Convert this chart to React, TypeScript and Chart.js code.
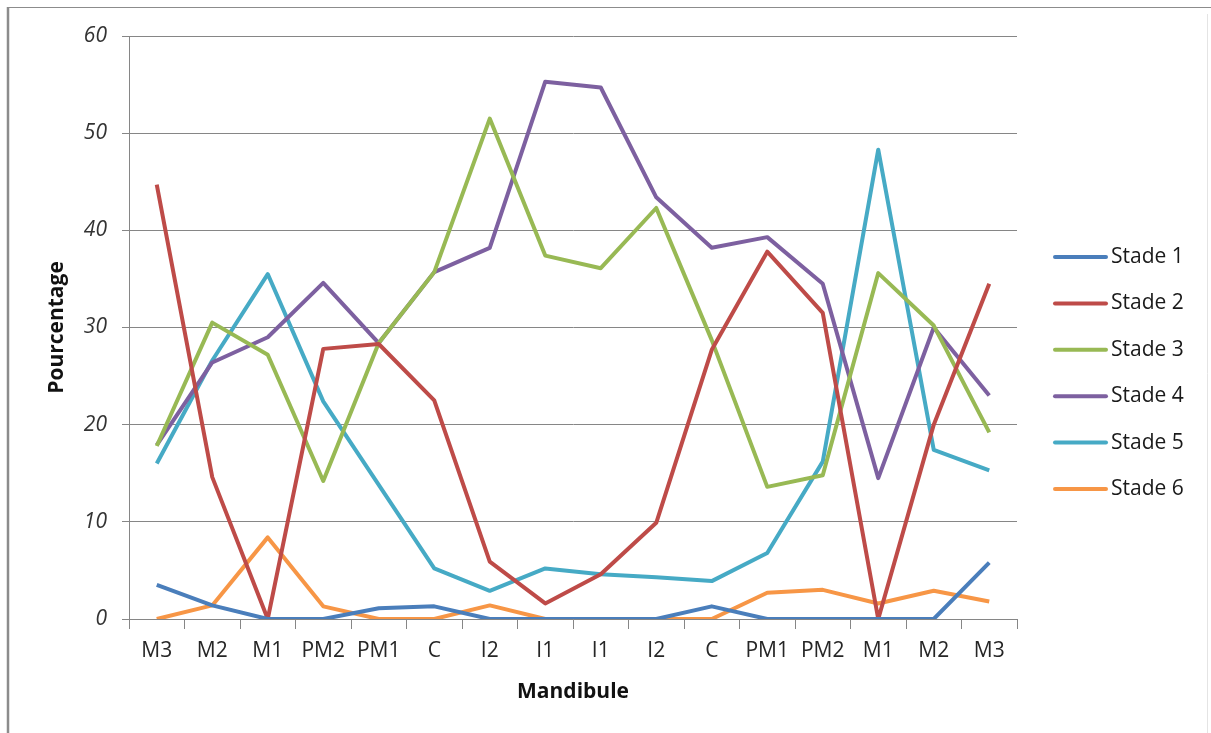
import React, { useEffect, useRef } from "react";
import { Chart, registerables } from "chart.js";

Chart.register(...registerables);

const categories = ["M3", "M2", "M1", "PM2", "PM1", "C", "I2", "I1", "I1", "I2", "C", "PM1", "PM2", "M1", "M2", "M3"];
const stade1 = [3.5, 1.4, 0, 0, 1.1, 1.3, 0, 0, 0, 0, 1.3, 0, 0, 0, 0, 5.8];
const stade2 = [44.7, 14.6, 0, 27.8, 28.3, 22.5, 5.9, 1.6, 4.6, 9.9, 27.7, 37.8, 31.5, 0, 20.0, 34.5];
const stade3 = [17.8, 30.5, 27.2, 14.2, 28.4, 35.7, 51.5, 37.4, 36.1, 42.3, 28.7, 13.6, 14.8, 35.6, 30.2, 19.2];
const stade4 = [17.9, 26.4, 29.0, 34.6, 28.4, 35.7, 38.2, 55.3, 54.7, 43.4, 38.2, 39.3, 34.5, 14.5, 30.0, 23.0];
const stade5 = [16.0, 26.6, 35.5, 22.4, 13.8, 5.2, 2.9, 5.2, 4.6, 4.3, 3.9, 6.8, 16.2, 48.3, 17.4, 15.3];
const stade6 = [0, 1.4, 8.4, 1.3, 0, 0, 1.4, 0, 0, 0, 0, 2.7, 3.0, 1.6, 2.9, 1.8];
const seriesNames = ["Stade 1", "Stade 2", "Stade 3", "Stade 4", "Stade 5", "Stade 6"];
const seriesColors = ["#4A7EBB", "#BE4B48", "#98B954", "#7D60A0", "#46AAC5", "#F79646"];
const yTicksMin = 0;
const yTicksMax = 60;
const yStep = 10;

const FONT = "'Open Sans', 'DejaVu Sans', sans-serif";

const framePlugin = {
  id: "frame",
  beforeDraw(chart: any) {
    const ctx = chart.ctx;
    ctx.save();
    ctx.fillStyle = "#ffffff";
    ctx.fillRect(0, 0, chart.width, chart.height);
    ctx.strokeStyle = "#8c8c8c";
    ctx.lineWidth = 1;
    ctx.beginPath();
    ctx.moveTo(7, 7.5);
    ctx.lineTo(chart.width, 7.5);
    ctx.stroke();
    ctx.lineWidth = 2.5;
    ctx.beginPath();
    ctx.moveTo(8, 7);
    ctx.lineTo(8, chart.height);
    ctx.stroke();
    ctx.strokeStyle = "#e4e4e4";
    ctx.lineWidth = 1;
    ctx.beginPath();
    ctx.moveTo(1207.5, 14);
    ctx.lineTo(1207.5, chart.height);
    ctx.stroke();
    ctx.restore();
  },
};

const legendPlugin = {
  id: "customLegend",
  afterDraw(chart: any) {
    const ctx = chart.ctx;
    ctx.save();
    const x0 = 1055;
    const x1 = 1106;
    const tx = 1111;
    const y0 = 257;
    const dy = 46.4;
    chart.data.datasets.forEach((ds: any, i: number) => {
      const y = y0 + i * dy;
      ctx.strokeStyle = ds.borderColor;
      ctx.lineWidth = 4;
      ctx.lineCap = "round";
      ctx.beginPath();
      ctx.moveTo(x0, y);
      ctx.lineTo(x1, y);
      ctx.stroke();
      ctx.fillStyle = "#1a1a1a";
      ctx.font = `21px ${FONT}`;
      ctx.textBaseline = "middle";
      ctx.textAlign = "left";
      ctx.fillText(ds.label, tx, y);
    });
    ctx.restore();
  },
};

export default function App() {
  const ref = useRef<HTMLCanvasElement | null>(null);

  useEffect(() => {
    if (!ref.current) return;
    const allSeries = [stade1, stade2, stade3, stade4, stade5, stade6];
    const chart = new Chart(ref.current, {
      type: "line",
      data: {
        labels: categories,
        datasets: allSeries.map((d, i) => ({
          label: seriesNames[i],
          data: d,
          borderColor: seriesColors[i],
          backgroundColor: seriesColors[i],
          borderWidth: 4,
          borderJoinStyle: "round",
          pointRadius: 0,
          tension: 0,
          fill: false,
        })),
      },
      options: {
        responsive: false,
        animation: false,
        devicePixelRatio: 1,
        layout: { padding: { left: 0, top: 36, right: 194, bottom: 0 } },
        plugins: { legend: { display: false }, tooltip: { enabled: false } },
        scales: {
          x: {
            type: "category",
            offset: true,
            grid: {
              offset: true,
              drawOnChartArea: false,
              drawTicks: true,
              tickLength: 10,
              color: "#868686",
            },
            border: { display: true, color: "#868686", width: 1 },
            ticks: {
              color: "#262626",
              font: { family: FONT, size: 21 },
              padding: 9,
              maxRotation: 0,
              autoSkip: false,
            },
            title: {
              display: true,
              text: "Mandibule",
              color: "#111111",
              font: { family: FONT, size: 21, weight: "bold" },
              padding: { top: 0, bottom: 28 },
            },
            afterFit(scale: any) {
              scale.height = 114;
            },
          },
          y: {
            min: yTicksMin,
            max: yTicksMax,
            ticks: {
              stepSize: yStep,
              color: "#333333",
              font: { family: FONT, size: 21, style: "italic" },
              padding: 15,
            },
            grid: { color: "#868686", lineWidth: 1, tickLength: 7, drawTicks: true },
            border: { display: true, color: "#868686", width: 1 },
            title: {
              display: true,
              text: "Pourcentage",
              color: "#111111",
              font: { family: FONT, size: 21, weight: "bold" },
              padding: { top: 44, bottom: 0 },
            },
            afterFit(scale: any) {
              scale.width = 129;
            },
          },
        },
      },
      plugins: [framePlugin, legendPlugin],
    } as any);
    return () => chart.destroy();
  }, []);

  return (
    <div style={{ position: "fixed", left: 0, top: 0, width: 1211, height: 733, background: "#fff" }}>
      <canvas ref={ref} width={1211} height={733} style={{ display: "block", width: 1211, height: 733 }} />
    </div>
  );
}
